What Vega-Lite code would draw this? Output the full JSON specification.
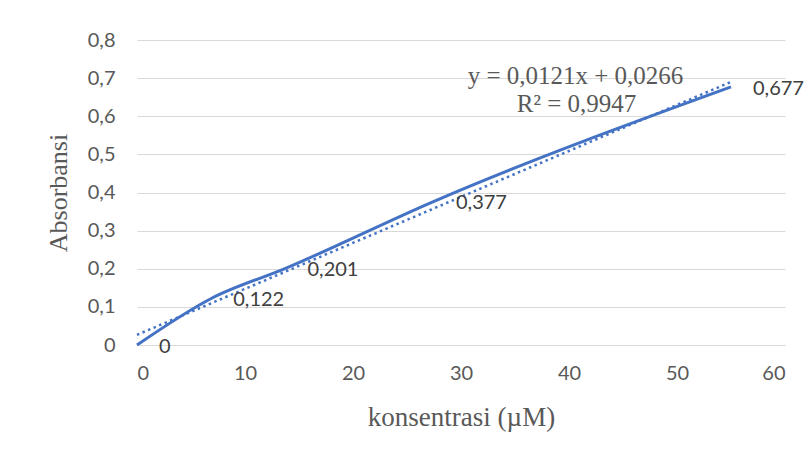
{
  "$schema": "https://vega.github.io/schema/vega-lite/v6.json",
  "width": 648,
  "height": 305,
  "autosize": {"type": "none"},
  "padding": {"left": 137, "top": 40, "right": 26, "bottom": 112},
  "background": "white",
  "config": {
    "view": {"stroke": null},
    "locale": {"number": {"decimal": ",", "thousands": ".", "grouping": [3], "currency": ["", ""]}}
  },
  "datasets": {
    "pts": [
      {"konsentrasi": 0, "absorbansi": 0},
      {"konsentrasi": 6.875, "absorbansi": 0.122},
      {"konsentrasi": 13.75, "absorbansi": 0.201},
      {"konsentrasi": 27.5, "absorbansi": 0.377},
      {"konsentrasi": 55, "absorbansi": 0.677}
    ],
    "eq": [
      {"konsentrasi": 40.6, "absorbansi": 0.705, "label": "y = 0,0121x + 0,0266"},
      {"konsentrasi": 40.7, "absorbansi": 0.633, "label": "R² = 0,9947"}
    ]
  },
  "encoding": {
    "x": {
      "field": "konsentrasi", "type": "quantitative",
      "scale": {"domain": [0, 60], "nice": false},
      "axis": {
        "title": "konsentrasi (µM)", "values": [0, 10, 20, 30, 40, 50, 60],
        "tickCount": 20,
        "format": "~f", "grid": false, "ticks": false, "domain": true,
        "domainColor": "#d9d9d9", "domainWidth": 1, "labelOverlap": false,
        "labelFont": "Lato", "labelFontSize": 20, "labelColor": "#595959", "labelPadding": 18,
        "titleFont": "Liberation Serif", "titleFontSize": 27, "titleFontWeight": "normal",
        "titleColor": "#595959", "titlePadding": 21
      }
    },
    "y": {
      "field": "absorbansi", "type": "quantitative",
      "scale": {"domain": [0, 0.8], "nice": false},
      "axis": {
        "title": "Absorbansi", "values": [0, 0.1, 0.2, 0.3, 0.4, 0.5, 0.6, 0.7, 0.8],
        "tickCount": 20,
        "format": ".1~f", "grid": true, "gridColor": "#d9d9d9", "gridWidth": 1,
        "ticks": false, "domain": false, "labelOverlap": false,
        "labelFont": "Lato", "labelFontSize": 20, "labelColor": "#595959", "labelPadding": 22,
        "titleFont": "Liberation Serif", "titleFontSize": 26, "titleFontWeight": "normal",
        "titleColor": "#595959", "titlePadding": 16
      }
    }
  },
  "layer": [
    {
      "data": {"name": "pts"},
      "transform": [{"regression": "absorbansi", "on": "konsentrasi", "method": "linear", "extent": [0, 55]}],
      "mark": {"type": "line", "color": "#4472C4", "strokeWidth": 2.5, "strokeDash": [2.5, 3.5], "clip": false}
    },
    {
      "data": {"name": "pts"},
      "mark": {"type": "line", "color": "#4472C4", "strokeWidth": 3, "interpolate": "monotone"}
    },
    {
      "data": {"name": "pts"},
      "mark": {"type": "text", "align": "left", "baseline": "middle", "dx": 22, "dy": 2, "font": "Lato", "fontSize": 20, "color": "#404040"},
      "encoding": {
        "text": {"field": "absorbansi", "type": "quantitative", "format": "~f"}
      }
    },
    {
      "data": {"name": "eq"},
      "mark": {"type": "text", "align": "center", "baseline": "middle", "font": "Liberation Serif", "fontSize": 25, "color": "#595959"},
      "encoding": {
        "text": {"field": "label", "type": "nominal"}
      }
    }
  ]
}
